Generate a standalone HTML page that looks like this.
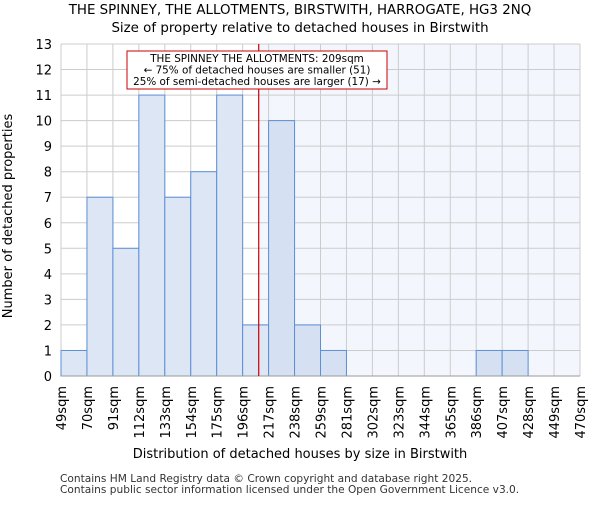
<!DOCTYPE html>
<html><head><meta charset="utf-8"><style>
body{margin:0;background:#fff;}
text{font-family:"DejaVu Sans","Liberation Sans",sans-serif;}
</style></head><body>
<svg width="600" height="500" viewBox="0 0 600 500">
<text x="300" y="14" font-size="13.4" text-anchor="middle">THE SPINNEY, THE ALLOTMENTS, BIRSTWITH, HARROGATE, HG3 2NQ</text>
<text x="300" y="32" font-size="13.4" text-anchor="middle">Size of property relative to detached houses in Birstwith</text>
<g id="plot"></g>
<text x="300" y="458" font-size="13" text-anchor="middle">Distribution of detached houses by size in Birstwith</text>
<text transform="translate(12,216) rotate(-90)" font-size="13" text-anchor="middle">Number of detached properties</text>
<text x="60" y="482" font-size="10.6" fill="#333">Contains HM Land Registry data © Crown copyright and database right 2025.</text>
<text x="60" y="493" font-size="10.6" fill="#333">Contains public sector information licensed under the Open Government Licence v3.0.</text>
</svg>
<script>
const binLabels=["49sqm","70sqm","91sqm","112sqm","133sqm","154sqm","175sqm","196sqm","217sqm","238sqm","259sqm","281sqm","302sqm","323sqm","344sqm","365sqm","386sqm","407sqm","428sqm","449sqm","470sqm"];
const binEdges=[49,70,91,112,133,154,175,196,217,238,259,281,302,323,344,365,386,407,428,449,470];
const counts=[1,7,5,11,7,8,11,2,10,2,1,0,0,0,0,0,1,1,0,0];
const yTicks=[0,1,2,3,4,5,6,7,8,9,10,11,12,13];
const markerValue=209;
const NS="http://www.w3.org/2000/svg";
const g=document.getElementById('plot');
const L=61,R=580,T=44,B=376,yMax=13;
const nb=counts.length;
function xIdx(i){return L+(R-L)*i/nb;}
function xVal(v){let i=0;while(i<binEdges.length-2&&v>binEdges[i+1])i++;return xIdx(i)+(v-binEdges[i])/(binEdges[i+1]-binEdges[i])*(xIdx(i+1)-xIdx(i));}
function y(v){return B-(B-T)*v/yMax;}
function mk(t,a){const e=document.createElementNS(NS,t);for(const k in a)e.setAttribute(k,a[k]);g.appendChild(e);return e;}
const mx=xVal(markerValue);
let sh=mk('rect',{x:mx,y:T,width:R-mx,height:B-T,fill:'#f3f6fd'});


yTicks.forEach(t=>{
 const l=mk('line',{x1:L,x2:R,y1:y(t),y2:y(t),stroke:'#cccccc'});
 
 
 const tx=mk('text',{x:L-9,y:y(t)+5,'font-size':13,'text-anchor':'end'});tx.textContent=t;
 
 
});
for(let i=0;i<=nb;i++){
 const l=mk('line',{x1:xIdx(i),x2:xIdx(i),y1:T,y2:B,stroke:'#cccccc'});
 
 
}
counts.forEach((c,i)=>{
 if(c<=0)return;
 const r=mk('rect',{x:xIdx(i),y:y(c),width:xIdx(i+1)-xIdx(i),height:B-y(c),fill:xIdx(i)>=mx?'#d5e0f2':'#dde6f4',stroke:'#5b8fd6','stroke-width':1});
 
 
});
const ax=mk('line',{x1:L,x2:R,y1:B,y2:B,stroke:'#999'});


binLabels.forEach((s,i)=>{
 const tx=mk('text',{transform:`translate(${xIdx(i)+5},${B+10}) rotate(-90)`,'font-size':13,'text-anchor':'end'});tx.textContent=s;
 
 
});
const ml=mk('line',{x1:mx,x2:mx,y1:T,y2:B,stroke:'#cc0000','stroke-width':1.2});


const box=mk('rect',{x:127,y:51,width:260,height:38,fill:'#fff',stroke:'#cc0000'});


["THE SPINNEY THE ALLOTMENTS: 209sqm","← 75% of detached houses are smaller (51)","25% of semi-detached houses are larger (17) →"].forEach((s,i)=>{
 const tx=mk('text',{x:257,y:62+i*11.5,'font-size':10.4,'text-anchor':'middle'});tx.textContent=s;
 
 
});
</script>
</body></html>
